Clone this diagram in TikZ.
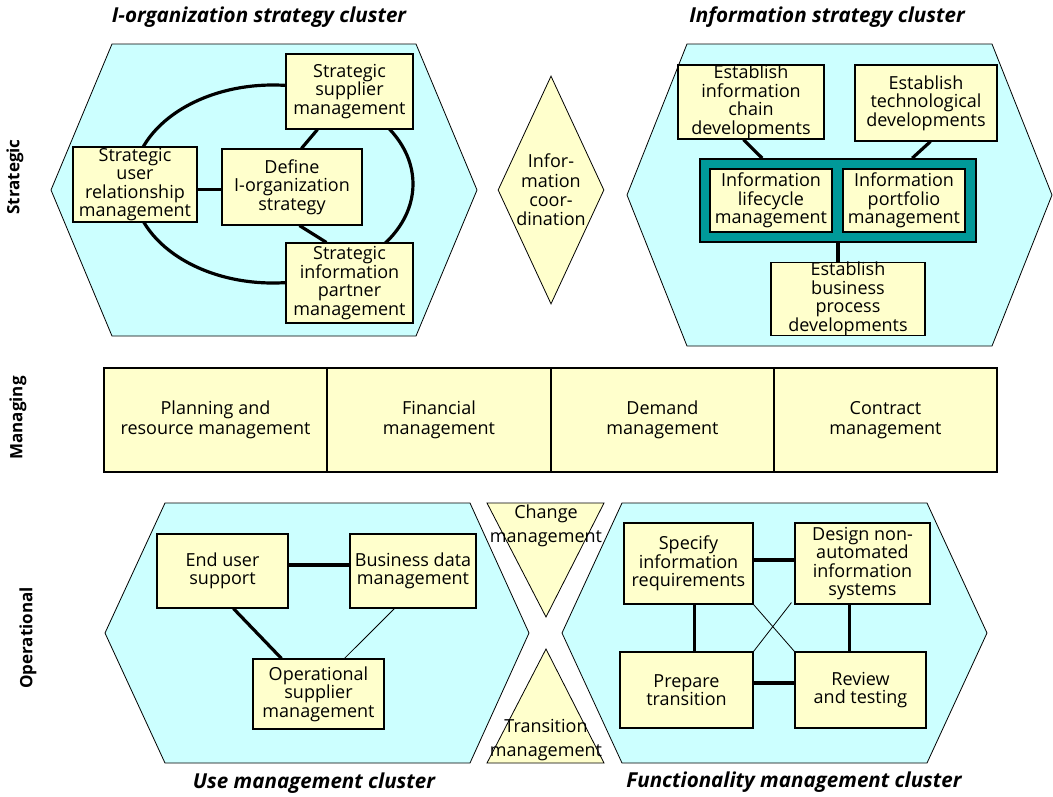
\documentclass[tikz,border=0pt]{standalone}
\usepackage{fontspec}
\setmainfont{Open Sans}
\usetikzlibrary{shapes.geometric}
\definecolor{yel}{HTML}{FFFFCC}
\definecolor{cyn}{HTML}{CCFFFF}
\definecolor{tealc}{HTML}{009999}
\newcommand{\bodyf}{\fontsize{18}{18.5}\selectfont}
\begin{document}
\begin{tikzpicture}[x=1pt,y=-1pt,
  box/.style={draw, fill=yel, line width=1.1pt, align=center, inner sep=0pt, font=\bodyf},
  hexa/.style={draw, fill=cyn, line width=0.8pt},
  tri/.style={draw, fill=yel, line width=0.8pt},
  thick link/.style={line width=3.2pt},
  thin link/.style={line width=0.8pt},
  ttl/.style={font=\fontsize{20.6}{24}\selectfont\bfseries\itshape},
  side/.style={rotate=90, font=\fontsize{17}{18}\selectfont\bfseries},
  txt/.style={align=center, inner sep=0pt, font=\bodyf}]
\useasboundingbox (0,0) rectangle (1053,796);
\fill[white] (0,0) rectangle (1053,796);

% titles and side labels
\node[ttl] (t1) at (259,17) {I-organization strategy cluster};
\node[ttl] (t2) at (827,17) {Information strategy cluster};
\node[ttl] (t3) at (314,783) {Use management cluster};
\node[ttl] (t4) at (794,782) {Functionality management cluster};
\node[side] (l1) at (15,177) {Strategic};
\node[side] (l2) at (18,418) {Managing};
\node[side] (l3) at (28,638) {Operational};

% hexagons
\draw[hexa] (112,44) -- (416,44) -- (477,190) -- (416,336) -- (112,336) -- (51,190) -- cycle;
\draw[hexa] (687,44) -- (992,44) -- (1052,195) -- (992,346) -- (687,346) -- (627,195) -- cycle;
\draw[hexa] (165,503) -- (470,503) -- (529,633) -- (470,763) -- (165,763) -- (105,633) -- cycle;
\draw[hexa] (622,503) -- (927,503) -- (987,633) -- (927,763) -- (622,763) -- (562,633) -- cycle;

% I-organization strategy cluster
\draw[thick link] (273,184) ellipse [x radius=140, y radius=99];
\node[box, minimum width=127, minimum height=75] (ssm) at (349.5,91.5) {Strategic\\supplier\\management};
\node[box, minimum width=124, minimum height=75] (surm) at (135,184.5) {Strategic\\user\\relationship\\management};
\node[box, minimum width=140, minimum height=76] (dios) at (292,187) {Define\\I-organization\\strategy};
\node[box, minimum width=127, minimum height=80] (sipm) at (349.5,283) {Strategic\\information\\partner\\management};
\draw[thick link] ([xshift=80]dios.north west) -- ([xshift=32]ssm.south west);
\draw[thick link] ([xshift=78]dios.south west) -- ([xshift=41]sipm.north west);
\draw[thick link] ([yshift=-5]surm.east) -- ([yshift=-5]surm.east -| dios.west);

% Information coordination
\node[diamond, draw, fill=yel, line width=0.8pt, minimum width=106, minimum height=228, inner sep=0pt] (ic) at (551,190) {};
\node[txt, font=\fontsize{18}{19.3}\selectfont] (ict) at (ic) {Infor-\\mation\\coor-\\dination};

% Information strategy cluster
\node[box, minimum width=146, minimum height=74] (eicd) at (751,102) {Establish\\information\\chain\\developments};
\node[box, minimum width=142, minimum height=76] (etd) at (926,103) {Establish\\technological\\developments};
\node[draw, fill=tealc, line width=1.6pt, minimum width=276, minimum height=83, inner sep=0pt] (teal) at (838,200.5) {};
\node[box, minimum width=122, minimum height=63] (ilm) at (771,200.5) {Information\\lifecycle\\management};
\node[box, minimum width=122, minimum height=63] (ipm) at (904,200.5) {Information\\portfolio\\management};
\node[box, minimum width=154, minimum height=72] (ebpd) at (848,299) {Establish\\business\\process\\developments};
\draw[thick link] ([xshift=66]eicd.south west) -- ([xshift=63]teal.north west);
\draw[thick link] ([xshift=76]etd.south west) -- ([xshift=213]teal.north west);
\draw[thick link] (teal.south) -- (teal.south |- ebpd.north);

% Managing band
\node[box, font=\fontsize{18}{20}\selectfont, minimum width=223, minimum height=104] (pr) at (215.5,420) {Planning and\\resource management};
\node[box, font=\fontsize{18}{20}\selectfont, minimum width=224, minimum height=104] (fm) at (439,420) {Financial\\management};
\node[box, font=\fontsize{18}{20}\selectfont, minimum width=223, minimum height=104] (dm) at (662.5,420) {Demand\\management};
\node[box, font=\fontsize{18}{20}\selectfont, minimum width=223, minimum height=104] (cm) at (885.5,420) {Contract\\management};

% Change and transition management
\draw[tri] (487,503) -- (604,503) -- (546,617) -- cycle;
\draw[tri] (546,649) -- (604,763) -- (487,763) -- cycle;
\node[txt, font=\fontsize{18}{24}\selectfont] (chg) at (546,526) {Change\\management};
\node[txt, font=\fontsize{18}{24}\selectfont] (trn) at (546,740) {Transition\\management};

% Use management cluster
\node[box, minimum width=131, minimum height=74] (eus) at (222.5,571) {End user\\support};
\node[box, minimum width=126, minimum height=74] (bdm) at (413,571) {Business data\\management};
\node[box, minimum width=131, minimum height=70] (osm) at (318.5,694) {Operational\\supplier\\management};
\draw[thick link] ([yshift=6]eus.east) -- ([yshift=6]eus.east -| bdm.west);
\draw[thick link] ([xshift=77]eus.south west) -- ([xshift=29]osm.north west);
\draw[thin link] ([xshift=45]bdm.south west) -- ([xshift=92]osm.north west);

% Functionality management cluster
\node[box, minimum width=129, minimum height=81] (sir) at (688.5,563.5) {Specify\\information\\requirements};
\node[box, minimum width=135, minimum height=81] (dna) at (862.5,563.5) {Design non-\\automated\\information\\systems};
\node[box, minimum width=133, minimum height=76] (pt) at (686.5,690) {Prepare\\transition};
\node[box, minimum width=131, minimum height=76] (rt) at (860.5,690) {Review\\and testing};
\draw[thick link] ([yshift=3.5]sir.east) -- ([yshift=3.5]sir.east -| dna.west);
\draw[thick link] ([yshift=7]pt.east) -- ([yshift=7]pt.east -| rt.west);
\draw[thick link] ([xshift=71]sir.south west) -- ([xshift=75]pt.north west);
\draw[thick link] ([xshift=55]dna.south west) -- ([xshift=55]rt.north west);
\draw[thin link] (sir.south east) -- (rt.north west);
\draw[thin link] (pt.north east) -- ([xshift=-3,yshift=2]dna.south west);
\end{tikzpicture}
\end{document}
